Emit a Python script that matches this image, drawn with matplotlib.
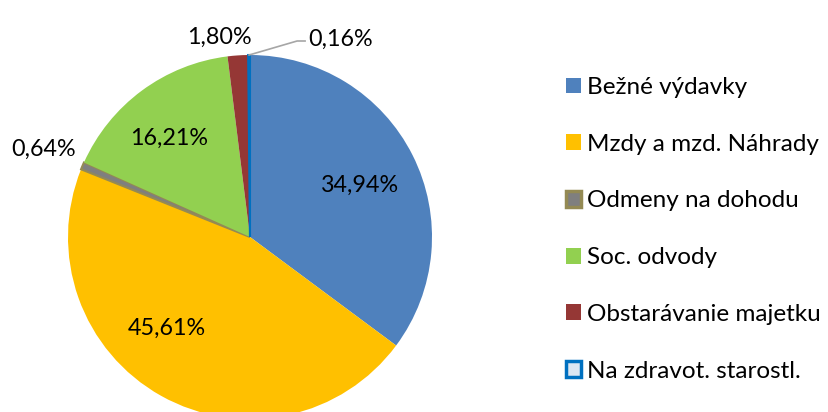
import numpy as np
import matplotlib.pyplot as plt

plt.rcParams['font.family'] = ['Lato', 'DejaVu Sans']

categories = ["Bežné výdavky", "Mzdy a mzd. Náhrady", "Odmeny na dohodu",
              "Soc. odvody", "Obstarávanie majetku", "Na zdravot. starostl."]
shares = [34.94, 45.61, 0.64, 16.21, 1.80, 0.16]
labels = ["34,94%", "45,61%", "0,64%", "16,21%", "1,80%", "0,16%"]

colors = ['#4F81BD', '#FFC000', '#7F7F7F', '#92D050', '#953735', '#0070C0']
edges = ['none', 'none', '#948A54', 'none', 'none', '#0070C0']
# label placement: radial distance (x radius) and angle shift (deg)
lab_dist = [0.67, 0.68, 1.23, 0.70, 1.11, None]
lab_shift = [-1.5, -13, 0, 3, 5, 0]

W, H = 829, 412
FS = 16.8
fig = plt.figure(figsize=(W / 100, H / 100), dpi=100)
ax = fig.add_axes([0, 0, 1, 1])

cx, cy, R = 250, 175, 182
wedges, _ = ax.pie(shares, colors=colors, startangle=90, counterclock=False,
                   center=(cx, cy), radius=R, frame=True)
for w, ec in zip(wedges, edges):
    if ec != 'none':
        w.set_edgecolor(ec)
        w.set_linewidth(1.5)
    else:
        w.set_edgecolor('none')
ax.set_xlim(0, W)
ax.set_ylim(0, H)
ax.axis('off')

for w, lab, d, s in zip(wedges, labels, lab_dist, lab_shift):
    mid = np.deg2rad((w.theta1 + w.theta2) / 2 + s)
    if d is None:
        x0 = cx + R * np.cos(mid)
        y0 = cy + R * np.sin(mid)
        ax.plot([x0, x0 + 48, x0 + 56], [y0, y0 + 14, y0 + 14],
                color='#A6A6A6', lw=1.2)
        ax.text(x0 + 59, y0 + 16, lab, fontsize=FS, ha='left', va='center')
        continue
    ax.text(cx + d * R * np.cos(mid), cy + d * R * np.sin(mid), lab,
            fontsize=FS, ha='center', va='center')

handles = []
for c, ec in zip(colors, edges):
    if c == '#0070C0':
        handles.append(plt.Rectangle((0, 0), 1, 1, fc='#DCE6F2', ec=c, lw=2.5))
    elif ec != 'none':
        handles.append(plt.Rectangle((0, 0), 1, 1, fc=c, ec=ec, lw=2.5))
    else:
        handles.append(plt.Rectangle((0, 0), 1, 1, fc=c, ec='none'))

fig.legend(handles, categories, loc='upper left', bbox_to_anchor=(566 / W, 1 - 77 / H),
           frameon=False, fontsize=17.5, handlelength=0.62, handleheight=0.62,
           handletextpad=0.25, labelspacing=1.47, borderaxespad=0, borderpad=0)

fig.savefig('out.png', dpi=100)
